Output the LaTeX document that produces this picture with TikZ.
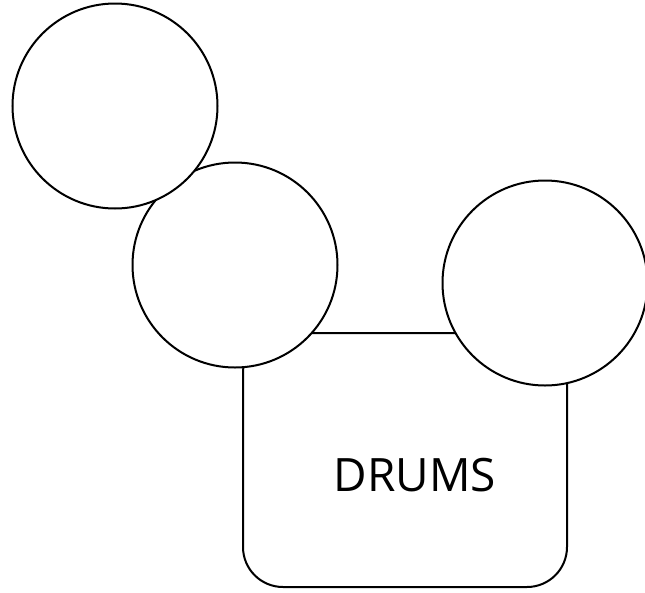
\documentclass[tikz,border=0pt]{standalone}
\usepackage{fontspec}
\setmainfont{Open Sans}
\begin{document}
\begin{tikzpicture}[x=1pt,y=-1pt,
  shapeline/.style={draw=black,line width=2pt,fill=white},
  drum/.style={shapeline,circle,minimum size=205pt,inner sep=0pt}]
\useasboundingbox (0,0) rectangle (645,592);
\begin{scope}
\clip (0,0) rectangle (645,592);
\draw[shapeline,rounded corners=40pt] (243,333) rectangle (567,587);
\node[drum] (c3) at (545,283) {};
\node[drum] (c2) at (235,265) {};
\node[drum] (c1) at (115,106) {};
\end{scope}
\node[font=\fontsize{46}{54}\selectfont,anchor=base] (label) at (415,491) {DRUMS};
\end{tikzpicture}
\end{document}
